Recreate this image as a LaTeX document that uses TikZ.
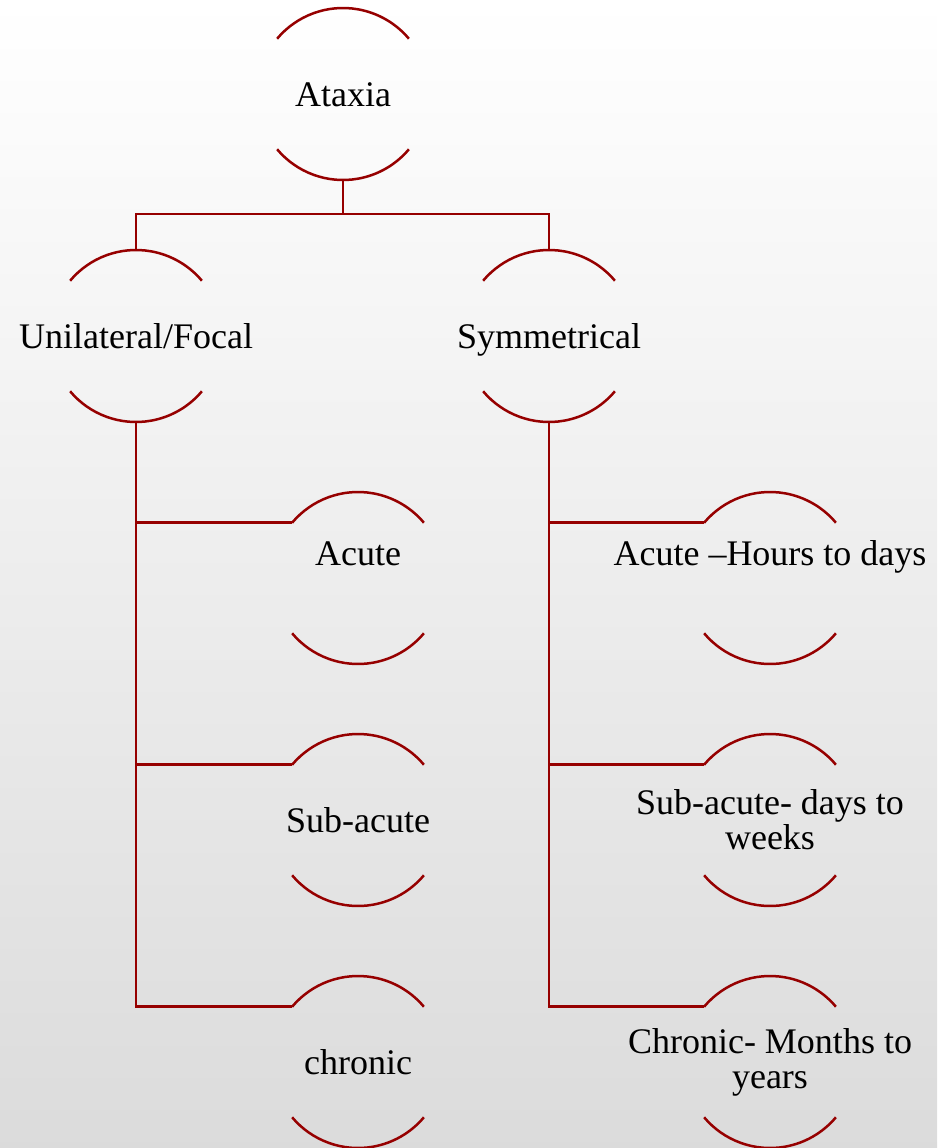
\documentclass[tikz,border=0pt]{standalone}
\usepackage{fontspec}
\setmainfont{Liberation Serif}
\usepackage{tikz}
\usetikzlibrary{positioning}

\definecolor{treered}{RGB}{150,0,0}

\begin{document}
\begin{tikzpicture}[
  x=1pt, y=1pt,
  ring/.style = {circle, minimum size=172pt, inner sep=0pt, outer sep=0pt},
  txt/.style = {align=center, inner sep=0pt, font=\fontsize{36}{35}\selectfont},
  oneline/.style = {txt, text height=32pt, text depth=8pt},
  treeline/.style = {draw=treered, line width=2.5pt},
  ]
	\useasboundingbox (0,0) rectangle (937,-1148);
	\shade[top color=white, bottom color=black!14] (0,0) rectangle (937,-1148);

	% rings
	\node[ring] (ataxia) at (343,-94) {};
	\node[ring] (unil) at (136,-336) {};
	\node[ring] (symm) at (549,-336) {};
	\node[ring] (uacute) at (358,-578) {};
	\node[ring] (usub) at (358,-820) {};
	\node[ring] (uchron) at (358,-1062) {};
	\node[ring] (sacute) at (770,-578) {};
	\node[ring] (ssub) at (770,-820) {};
	\node[ring] (schron) at (770,-1062) {};

	\foreach \n in {ataxia,unil,symm,uacute,usub,uchron,sacute,ssub,schron}
		\draw[treeline] (\n.140) arc[start angle=140, end angle=40, radius=86]
		                (\n.220) arc[start angle=220, end angle=320, radius=86];

	% texts
	\node[oneline] (ataxiat) at (ataxia) {Ataxia};
	\node[oneline] (unilt) at (unil) {Unilateral/Focal};
	\node[oneline] (symmt) at (symm) {Symmetrical};
	\node[oneline, yshift=25pt] (uacutet) at (uacute) {Acute};
	\node[oneline] (usubt) at (usub) {Sub-acute};
	\node[oneline] (uchront) at (uchron) {chronic};
	\node[oneline, yshift=25pt] (sacutet) at (sacute) {Acute –Hours to days};
	\node[txt] (ssubt) at (ssub) {Sub-acute- days to\\weeks};
	\node[txt] (schront) at (schron) {Chronic- Months to\\years};

	% connectors
	\coordinate[below=34pt of ataxia.south] (bus);
	\draw[treeline] (ataxia.south) -- (bus) -| (unil.north);
	\draw[treeline] (bus) -| (symm.north);

	\draw[treeline] (unil.south) |- (uacute.140);
	\draw[treeline] (unil.south) |- (usub.140);
	\draw[treeline] (unil.south) |- (uchron.140);

	\draw[treeline] (symm.south) |- (sacute.140);
	\draw[treeline] (symm.south) |- (ssub.140);
	\draw[treeline] (symm.south) |- (schron.140);

\end{tikzpicture}
\end{document}
